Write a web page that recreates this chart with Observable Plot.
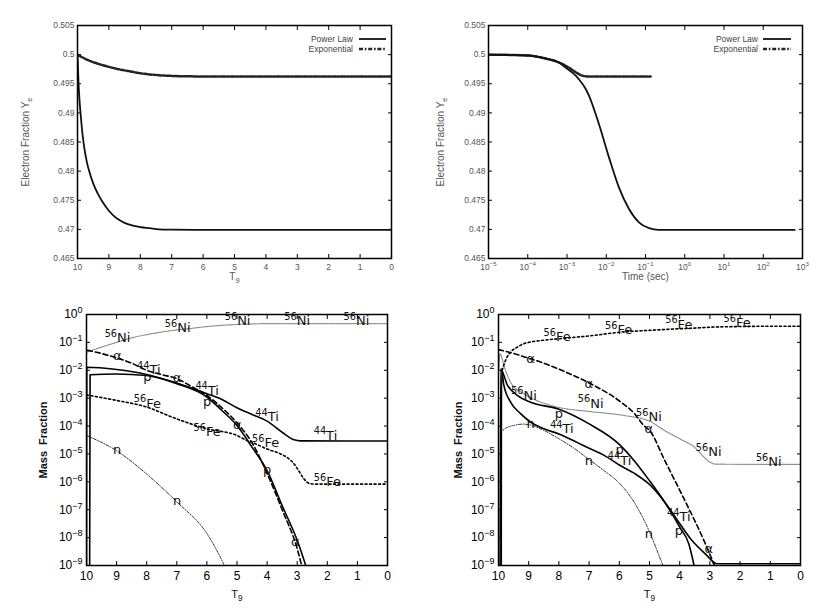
<!DOCTYPE html>
<html><head><meta charset="utf-8">
<script src="https://cdn.jsdelivr.net/npm/d3@7"></script>
<script src="https://cdn.jsdelivr.net/npm/@observablehq/plot@0.6"></script>
<style>
body{margin:0;background:#fff}
#wrap{position:relative;width:830px;height:616px;overflow:hidden;background:#fff}
#wrap svg{position:absolute}
</style></head><body><div id="wrap"></div>
<script>
// ---------- Top-left: Ye vs T9 ----------
const plT9 = [10, 9.97, 9.94, 9.9, 9.85, 9.8, 9.7, 9.6, 9.5, 9.35, 9.2, 9, 8.8, 8.6, 8.4, 8.2, 8, 7.7, 7.4, 7, 6, 0];
const plYe = [0.5, 0.4955, 0.4925, 0.4898, 0.4868, 0.4846, 0.4815, 0.4795, 0.4779, 0.4761, 0.4747, 0.4732, 0.4721, 0.4714, 0.4709, 0.4706, 0.4704, 0.4702, 0.4700, 0.46995, 0.4699, 0.4699];
const exT9 = [10, 9.8, 9.5, 9.2, 9, 8.7, 8.4, 8, 7.5, 7, 6.5, 6, 0];
const exYe = [0.5, 0.4994, 0.4987, 0.4982, 0.4979, 0.4975, 0.4972, 0.4968, 0.4965, 0.49635, 0.49628, 0.49625, 0.49625];
// ---------- Top-right: Ye vs time ----------
const plTime = [1e-5, 1e-4, 3e-4, 6e-4, 1e-3, 1.5e-3, 2e-3, 3e-3, 3.6e-3, 6.5e-3, 1.17e-2, 2.1e-2, 3.8e-2, 6.8e-2, 0.123, 0.22, 1, 10, 100, 630];
const plYeT = [0.5, 0.49985, 0.4993, 0.4987, 0.4976, 0.4967, 0.4958, 0.4941, 0.4930, 0.4881, 0.4824, 0.4772, 0.4735, 0.4712, 0.4702, 0.4699, 0.4699, 0.4699, 0.4699, 0.4699];
const exTime = [1e-5, 1e-4, 3e-4, 6e-4, 1.1e-3, 1.65e-3, 2.45e-3, 3.6e-3, 5e-3, 0.135];
const exYeT = [0.5, 0.49985, 0.4993, 0.4987, 0.4978, 0.4970, 0.4964, 0.49625, 0.49624, 0.49624];

const yeTicks = [0.465, 0.47, 0.475, 0.48, 0.485, 0.49, 0.495, 0.5, 0.505];
const t9Ticks = [10, 9, 8, 7, 6, 5, 4, 3, 2, 1, 0];
const timeTicks = [1e-5, 1e-4, 1e-3, 1e-2, 1e-1, 1e0, 1e1, 1e2, 1e3];
const massTicks = [1e0, 1e-1, 1e-2, 1e-3, 1e-4, 1e-5, 1e-6, 1e-7, 1e-8, 1e-9];
const legendNames = ["Power Law", "Exponential"];

// ---------- Bottom-left: mass fractions (power law) ----------
const niL_T9 = [9.98, 9.5, 9, 8.5, 8, 7.5, 7, 6.5, 6, 5.5, 5, 4.5, 4, 3, 0];
const niL_X  = [0.045, 0.068, 0.10, 0.145, 0.19, 0.235, 0.28, 0.32, 0.37, 0.41, 0.44, 0.46, 0.47, 0.47, 0.47];
const alL_T9 = [9.97, 9.5, 9, 8.5, 8, 7.5, 7, 6.5, 6, 5.5, 5, 4.5, 4, 3.5, 3, 2.8];
const alL_X  = [0.052, 0.040, 0.028, 0.018, 0.010, 7e-3, 5e-3, 2.6e-3, 1.25e-3, 4.5e-4, 1.3e-4, 2.5e-5, 2.0e-6, 1.0e-7, 4e-9, 6e-10];
const pL_T9  = [9.9, 9.88, 9, 8, 7, 6, 5.5, 5, 4.5, 4, 3.5, 3, 2.65];
const pL_X   = [1e-11, 6.9e-3, 7.4e-3, 6.5e-3, 3.3e-3, 1.1e-3, 3.6e-4, 1.05e-4, 1.75e-5, 2.5e-6, 1.4e-7, 8e-9, 6e-10];
const tiL_T9 = [10, 9.99, 9, 8, 7, 6, 5.5, 5, 4.5, 4, 3.5, 3.1, 2.9, 0];
const tiL_X  = [1e-11, 1.29e-2, 1.07e-2, 7.1e-3, 3.5e-3, 1.45e-3, 9e-4, 4.5e-4, 2.6e-4, 1.5e-4, 6e-5, 3.2e-5, 2.95e-5, 2.9e-5];
const feL_T9 = [10, 9, 8, 7, 6, 5, 4.66, 4.5, 4, 3.55, 3.3, 3.11, 2.95, 2.78, 2.6, 2.4, 0];
const feL_X  = [1.3e-3, 8.3e-4, 4.8e-4, 1.8e-4, 8e-5, 4.6e-5, 3.0e-5, 2.6e-5, 1.5e-5, 1.0e-5, 7e-6, 4.5e-6, 2.5e-6, 1.3e-6, 8.8e-7, 8.3e-7, 8.3e-7];
const nL_T9  = [9.98, 9, 8, 7, 6, 5.44, 5.3];
const nL_X   = [4.5e-5, 1.3e-5, 1.9e-6, 1.9e-7, 1.4e-8, 1.1e-9, 5e-10];

const labL_T9  = [8.97, 6.97, 4.98, 3.0, 1.03, 8.98, 6.99, 4.99, 3.06, 7.93, 5.99, 4.0, 2.06, 7.98, 5.99, 4.0, 8.98, 6.99, 7.98, 5.99, 4.05, 2.0];
const labL_X   = [0.14, 0.33, 0.575, 0.575, 0.575, 0.034, 5.4e-3, 1.15e-4, 6.9e-9, 1e-2, 1.9e-3, 2.1e-4, 4.6e-5, 5.6e-3, 7.2e-4, 2.6e-6, 1.35e-5, 2.1e-7, 6.3e-4, 6e-5, 2.45e-5, 9.8e-7];
const labL_txt = ["⁵⁶Ni", "⁵⁶Ni", "⁵⁶Ni", "⁵⁶Ni", "⁵⁶Ni", "α", "α", "α", "α", "⁴⁴Ti", "⁴⁴Ti", "⁴⁴Ti", "⁴⁴Ti", "p", "p", "p", "n", "n", "⁵⁶Fe", "⁵⁶Fe", "⁵⁶Fe", "⁵⁶Fe"];

// ---------- Bottom-right: mass fractions (exponential) ----------
const feR_T9 = [9.88, 9.75, 9.6, 9.4, 9.17, 9, 8.5, 8, 7.4, 7, 6, 5.3, 5, 4, 3.64, 3, 2, 1, 0];
const feR_X  = [1.0e-2, 2.5e-2, 4.5e-2, 6.5e-2, 8.9e-2, 0.10, 0.12, 0.135, 0.155, 0.17, 0.23, 0.26, 0.27, 0.31, 0.32, 0.35, 0.37, 0.38, 0.38];
const alR_T9 = [10, 9.5, 9, 8.5, 8, 7, 6, 5.5, 5.19, 5, 4.5, 4, 3.5, 3.2, 3, 2.82];
const alR_X  = [0.055, 0.04, 0.027, 0.018, 0.011, 3.5e-3, 8e-4, 2.8e-4, 1.05e-4, 7e-5, 6e-6, 5e-7, 4e-8, 8e-9, 2.5e-9, 8e-10];
const niR_T9 = [9.99, 9.95, 9.8, 9.6, 9.17, 8.6, 8.06, 6.95, 5.85, 5, 4.5, 4, 3.5, 3.2, 3, 2.8, 0];
const niR_X  = [1e-2, 0.039, 1.25e-2, 3.7e-3, 1.45e-3, 7.2e-4, 4.8e-4, 3.3e-4, 2.4e-4, 1.5e-4, 6.9e-5, 3.5e-5, 1.7e-5, 7.8e-6, 5.1e-6, 4.3e-6, 4.2e-6];
const pR_T9  = [9.95, 9.93, 9.7, 9.38, 8.94, 8, 7, 6, 5.5, 5, 4.5, 4, 3.7, 3.48];
const pR_X   = [1e-11, 1.1e-2, 2.9e-3, 1.26e-3, 7.2e-4, 4e-4, 1.2e-4, 2.2e-5, 5.6e-6, 1.1e-6, 1.9e-7, 2.4e-8, 6e-9, 6e-10];
const tiR_T9 = [9.91, 9.9, 9.83, 9.6, 9.27, 8.94, 8.5, 8, 7.4, 7, 6.5, 6, 5.5, 5, 4.5, 4, 3.6, 3.15, 2.76, 0];
const tiR_X  = [1e-11, 1.1e-2, 3.2e-3, 7.2e-4, 2.8e-4, 1.4e-4, 8e-5, 5.2e-5, 2.6e-5, 1.6e-5, 8.9e-6, 4e-6, 2e-6, 8e-7, 1.9e-7, 3.2e-8, 8e-9, 2.6e-9, 1.15e-9, 1.15e-9];
const nR_T9  = [9.95, 9.8, 9.5, 9.2, 9, 8.5, 8, 7.5, 7, 6.5, 6, 5.5, 5, 4.7, 4.52];
const nR_X   = [5.6e-5, 7.9e-5, 1.05e-4, 1.17e-4, 1.12e-4, 7e-5, 3.5e-5, 1.6e-5, 6.3e-6, 2.5e-6, 9e-7, 1.8e-7, 1.6e-8, 2.5e-9, 8e-10];

const labR_T9  = [8.06, 6.02, 4.03, 2.1, 8.94, 7.01, 5.02, 3.04, 9.16, 6.95, 5.02, 3.04, 1.05, 8.0, 5.99, 4.03, 7.9, 5.99, 4.03, 8.94, 7.01, 5.02];
const labR_X   = [0.155, 0.28, 0.44, 0.49, 0.026, 3.3e-3, 7.9e-5, 4e-9, 1.26e-3, 6.3e-4, 2.1e-4, 1.15e-5, 5.1e-6, 2.75e-4, 1.35e-5, 1.8e-8, 7.9e-5, 5.9e-6, 5.4e-8, 1.2e-4, 5.9e-6, 1.4e-8];
const labR_txt = ["⁵⁶Fe", "⁵⁶Fe", "⁵⁶Fe", "⁵⁶Fe", "α", "α", "α", "α", "⁵⁶Ni", "⁵⁶Ni", "⁵⁶Ni", "⁵⁶Ni", "⁵⁶Ni", "p", "p", "p", "⁴⁴Ti", "⁴⁴Ti", "⁴⁴Ti", "n", "n", "n"];

// ---------- helpers ----------
const pairs = (xs, ys) => xs.map((x, i) => ({x, y: ys[i]}));
const sup = {"-": "⁻", "0": "⁰", "1": "¹", "2": "²", "3": "³", "4": "⁴", "5": "⁵", "6": "⁶", "7": "⁷", "8": "⁸", "9": "⁹"};
const pow10 = d => "10" + String(Math.round(Math.log10(d))).split("").map(c => sup[c]).join("");
const fmtYe = d => String(+d.toFixed(3));
const wrap = document.getElementById("wrap");
function place(svg, left, top) { svg.style.left = left + "px"; svg.style.top = top + "px"; wrap.appendChild(svg); }

// turn unicode super/subscript characters into shifted tspans
const supMap = {"⁰":"0","¹":"1","²":"2","³":"3","⁴":"4","⁵":"5","⁶":"6","⁷":"7","⁸":"8","⁹":"9","⁻":"−"};
const subMap = {"₉":"9","ₑ":"e"};
function fixScripts(svg, supScale = 0.72) {
  d3.select(svg).selectAll("text").each(function() {
    const el = this;
    if (el.querySelector("tspan")) return;
    const chars = [...el.textContent];
    if (!chars.some(c => supMap[c] || subMap[c])) return;
    const fs = parseFloat(getComputedStyle(el).fontSize) || 10;
    const runs = [];
    for (const c of chars) {
      const kind = supMap[c] ? "sup" : subMap[c] ? "sub" : "n";
      const ch = supMap[c] || subMap[c] || c;
      if (runs.length && runs[runs.length - 1].kind === kind) runs[runs.length - 1].s += ch;
      else runs.push({kind, s: ch});
    }
    el.textContent = "";
    let shift = 0;
    for (const r of runs) {
      const t = d3.select(el).append("tspan").text(r.s);
      let target = 0;
      if (r.kind === "sup") { target = -fs * 0.42; t.attr("font-size", fs * supScale); }
      else if (r.kind === "sub") { target = fs * 0.3; t.attr("font-size", fs * 0.75); }
      const dy = target - shift;
      if (dy) t.attr("dy", dy);
      shift = target;
    }
  });
}

function topPlot({xScale, xTicks, xFmt, lines, xLabel, ml, mr}) {
  return Plot.plot({
    width: 415, height: 300, marginLeft: ml, marginRight: mr, marginTop: 25, marginBottom: 42,
    style: {fontFamily: "Liberation Sans, Arial, sans-serif", fontSize: "8.5px", color: "#555", background: "transparent", overflow: "visible"},
    x: xScale, y: {domain: [0.465, 0.505]},
    marks: [
      Plot.axisY(yeTicks, {anchor: "left", tickSize: 0, tickPadding: 3, tickFormat: fmtYe, label: null}),
      Plot.axisY(yeTicks, {anchor: "left", tickSize: -4, tickFormat: () => "", label: null, color: "#000"}),
      Plot.axisY(yeTicks, {anchor: "right", tickSize: -4, tickFormat: () => "", label: null, color: "#000"}),
      Plot.axisX(xTicks, {anchor: "bottom", tickSize: 0, tickPadding: 5, tickFormat: xFmt, label: null}),
      Plot.axisX(xTicks, {anchor: "bottom", tickSize: -4, tickFormat: () => "", label: null, color: "#000"}),
      Plot.axisX(xTicks, {anchor: "top", tickSize: -4, tickFormat: () => "", label: null, color: "#000"}),
      ...lines,
      Plot.frame({stroke: "#000", strokeWidth: 1.5}),
      Plot.text(["Electron Fraction Yₑ"], {frameAnchor: "left", dx: -(ml - 25), rotate: -90, textAnchor: "middle", lineAnchor: "middle", fontSize: 10, fill: "#555"}),
      Plot.text([xLabel], {frameAnchor: "bottom", dy: 18, textAnchor: "middle", lineAnchor: "middle", fontSize: 10, fill: "#555"})
    ]
  });
}
const exDash = "4,1.8,1.6,1.8";
function addLegend(svg, textX, lineX1, lineX2) {
  const s = d3.select(svg);
  const g = s.append("g").attr("font-family", "Liberation Sans, Arial, sans-serif").attr("font-size", 8.5).attr("fill", "#444");
  legendNames.forEach((name, i) => {
    const y = 39 + i * 10;
    g.append("text").attr("x", textX).attr("y", y).attr("dy", "0.35em").attr("text-anchor", "end").text(name);
    const l = g.append("line").attr("x1", lineX1).attr("x2", lineX2).attr("y1", y).attr("y2", y);
    if (i === 0) l.attr("stroke", "#111").attr("stroke-width", 1.8);
    else l.attr("stroke", "#222").attr("stroke-width", 2.5).attr("stroke-dasharray", exDash);
  });
}

const plStyle = {stroke: "#111", strokeWidth: 1.8, curve: "monotone-x", clip: true};
const exStyle = {stroke: "#222", strokeWidth: 2.5, strokeDasharray: exDash, curve: "monotone-x", clip: true};

const tl = topPlot({
  xScale: {domain: [10, 0]}, xTicks: t9Ticks, xFmt: d => String(d), xLabel: "T₉", ml: 77, mr: 24,
  lines: [
    Plot.line(pairs(exT9, exYe), {x: "x", y: "y", ...exStyle}),
    Plot.line(pairs(plT9, plYe), {x: "x", y: "y", ...plStyle})
  ]
});
addLegend(tl, 353, 359, 386);
place(tl, 0, 0);
fixScripts(tl);

const tr = topPlot({
  xScale: {type: "log", domain: [1e-5, 1e3]}, xTicks: timeTicks, xFmt: pow10, xLabel: "Time (sec)", ml: 73, mr: 28,
  lines: [
    Plot.line(pairs(exTime, exYeT), {x: "x", y: "y", ...exStyle}),
    Plot.line(pairs(plTime, plYeT), {x: "x", y: "y", ...plStyle})
  ]
});
addLegend(tr, 343, 348, 376);
place(tr, 415, 0);
fixScripts(tr);

const sNi = {stroke: "#888", strokeWidth: 1.2, strokeDasharray: "1.2,1.2"};
const sFe = {stroke: "#000", strokeWidth: 1.6, strokeDasharray: "2,2.5"};
const sAl = {stroke: "#000", strokeWidth: 1.6, strokeDasharray: "5,3"};
const sSolid = {stroke: "#000", strokeWidth: 1.6};
const sN = {stroke: "#333", strokeWidth: 1, strokeDasharray: "3,1.5,1,1.5"};

function bottomPlot({series, labT9, labX, labTxt, ml, mr, labelOffset}) {
  return Plot.plot({
    width: 415, height: 316, marginLeft: ml, marginRight: mr, marginTop: 14, marginBottom: 51,
    style: {fontFamily: "Liberation Sans, Arial, sans-serif", fontSize: "12px", color: "#000", background: "transparent", overflow: "visible"},
    x: {domain: [10, 0]}, y: {type: "log", domain: [1e-9, 1]},
    marks: [
      Plot.axisY(massTicks, {anchor: "left", tickSize: 0, tickPadding: 4, tickFormat: pow10, label: null}),
      Plot.axisY(massTicks, {anchor: "left", tickSize: -4, tickFormat: () => "", label: null}),
      Plot.axisY(massTicks, {anchor: "right", tickSize: -4, tickFormat: () => "", label: null}),
      Plot.axisX(t9Ticks, {anchor: "bottom", tickSize: 0, tickPadding: 6, tickFormat: d => String(d), label: null}),
      Plot.axisX(t9Ticks, {anchor: "bottom", tickSize: -4, tickFormat: () => "", label: null}),
      Plot.axisX(t9Ticks, {anchor: "top", tickSize: -4, tickFormat: () => "", label: null}),
      ...series.map(([xs, ys, st]) => Plot.line(pairs(xs, ys), {x: "x", y: "y", ...st, curve: "monotone-x", clip: true})),
      Plot.text(pairs(labT9, labX).map((d, i) => ({...d, t: labTxt[i]})), {x: "x", y: "y", text: "t", fontSize: 13, fontFamily: "DejaVu Sans, sans-serif", fill: "#111"}),
      Plot.frame({stroke: "#000", strokeWidth: 1.5}),
      Plot.text(["Mass  Fraction"], {frameAnchor: "left", dx: -labelOffset, rotate: -90, textAnchor: "middle", lineAnchor: "middle", fontSize: 11, fontWeight: 600, fill: "#111"}),
      Plot.text(["T₉"], {frameAnchor: "bottom", dy: 29, textAnchor: "middle", lineAnchor: "middle", fontSize: 11, fill: "#111"})
    ]
  });
}

const bl = bottomPlot({
  series: [[niL_T9, niL_X, sNi], [feL_T9, feL_X, sFe], [nL_T9, nL_X, sN], [alL_T9, alL_X, sAl], [pL_T9, pL_X, sSolid], [tiL_T9, tiL_X, sSolid]],
  labT9: labL_T9, labX: labL_X, labTxt: labL_txt, ml: 86, mr: 28, labelOffset: 43
});
place(bl, 0, 300);
fixScripts(bl, 0.75);

const br = bottomPlot({
  series: [[niR_T9, niR_X, sNi], [feR_T9, feR_X, sFe], [nR_T9, nR_X, sN], [alR_T9, alR_X, sAl], [pR_T9, pR_X, sSolid], [tiR_T9, tiR_X, sSolid]],
  labT9: labR_T9, labX: labR_X, labTxt: labR_txt, ml: 83, mr: 30, labelOffset: 40
});
place(br, 415, 300);
fixScripts(br, 0.75);
</script></body></html>
